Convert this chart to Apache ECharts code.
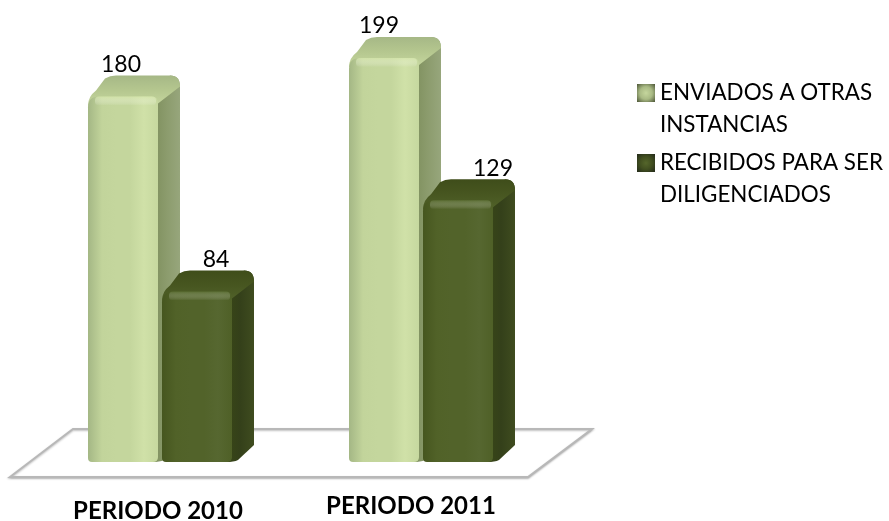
<!DOCTYPE html>
<html>
<head>
<meta charset="utf-8">
<style>
html, body { margin: 0; padding: 0; background: #fff; }
#chart { width: 889px; height: 521px; }
</style>
<script src="https://cdn.jsdelivr.net/npm/echarts@6/dist/echarts.min.js"></script>
</head>
<body>
<div id="chart"></div>
<script>
const categories = ['PERIODO 2010', 'PERIODO 2011'];
const enviados = [180, 199];
const recibidos = [84, 129];
const seriesNames = ['ENVIADOS A OTRAS\nINSTANCIAS', 'RECIBIDOS PARA SER\nDILIGENCIADOS'];

const FONT = 'Lato, Carlito, sans-serif';
const linear = (x, y, x2, y2, stops) => new echarts.graphic.LinearGradient(x, y, x2, y2,
	stops.map((c, i) => ({ offset: i / (stops.length - 1), color: c })));

const lightFace = {
	front: ['#a4b785', '#c2d49b', '#c4d69d', '#c4d69d', '#d0e1a8', '#c6d89f'],
	side: ['#7d8e5c', '#8b9b6c', '#97a67c'],
	top: ['#a6b886', '#b5c78f', '#c6d79f'],
	bevel: 'rgba(214,230,172,0.7)'
};
const darkFace = {
	front: ['#46561f', '#516228', '#52632a', '#52632a', '#566730', '#4f6027'],
	side: ['#394717', '#34401a', '#3f4c1f'],
	top: ['#3f4d1a', '#475620', '#51622a'],
	bevel: 'rgba(96,116,56,0.6)'
};

// 3D look of the bars: front width, depth of the side face
const FRONT_W = 70, DX = 22, DY = 21;

function barRenderer(face, slot, labelShift) {
	return function (params, api) {
		const idx = api.value(0);
		const val = api.value(1);
		const top = api.coord([idx, val]);
		const base = api.coord([idx, 0]);
		const x0 = top[0] + slot, x1 = x0 + FRONT_W;
		const yT = top[1], yB = base[1];
		const sidePath = `M${x1 - 4} ${yT} L${x1 + DX - 10} ${yT - DY} Q${x1 + DX} ${yT - DY} ${x1 + DX} ${yT - DY + 11}
			L${x1 + DX} ${yB - DY + 4} L${x1 + 6} ${yB - 2} Q${x1 + 2} ${yB} ${x1 - 6} ${yB} Z`;
		const topPath = `M${x0} ${yT + 9} Q${x0} ${yT} ${x0 + 8} ${yT - 6} L${x0 + DX - 5} ${yT - DY + 3}
			Q${x0 + DX} ${yT - DY} ${x0 + DX + 6} ${yT - DY} L${x1 + DX - 10} ${yT - DY} Q${x1 + DX} ${yT - DY} ${x1 + DX} ${yT - DY + 11}
			L${x1} ${yT + 7} Z`;
		const frontPath = `M${x0} ${yT + 11} Q${x0} ${yT} ${x0 + 11} ${yT} L${x1 - 6} ${yT} Q${x1} ${yT} ${x1} ${yT + 7}
			L${x1} ${yB - 5} Q${x1} ${yB} ${x1 - 5} ${yB} L${x0 + 4} ${yB} Q${x0} ${yB} ${x0} ${yB - 4} Z`;
		return {
			type: 'group',
			children: [
				{ type: 'path', shape: { pathData: sidePath }, style: { fill: linear(0, 0, 1, 0, face.side) } },
				{ type: 'path', shape: { pathData: topPath }, style: { fill: linear(0, 0, 0, 1, face.top) } },
				{ type: 'path', shape: { pathData: frontPath }, style: { fill: linear(0, 0, 1, 0, face.front) } },
				{
					type: 'rect',
					shape: { x: x0 + 7, y: yT, width: FRONT_W - 9, height: 9, r: 4 },
					style: { fill: linear(0, 0, 0, 1, [face.bevel, 'rgba(255,255,255,0)']) }
				},
				{
					type: 'text',
					style: {
						text: String(val),
						x: x0 + labelShift[idx],
						y: yT - DY - 11,
						align: 'center',
						verticalAlign: 'middle',
						font: '23px ' + FONT,
						fill: '#000'
					}
				}
			]
		};
	};
}

const chart = echarts.init(document.getElementById('chart'));
chart.setOption({
	animation: false,
	backgroundColor: '#fff',
	grid: { left: 31.5, width: 522, top: 56, height: 406, outerBoundsMode: 'none' },
	xAxis: {
		type: 'category',
		data: [
			{ value: categories[0], textStyle: { padding: [5, 8, 0, 0] } },
			{ value: categories[1], textStyle: { padding: [0, 24, 5, 0] } }
		],
		axisLine: { show: false },
		axisTick: { show: false },
		axisLabel: { margin: 32, fontFamily: FONT, fontWeight: 'bold', fontSize: 24, color: '#000' }
	},
	yAxis: { type: 'value', min: 0, max: 200, show: false },
	legend: {
		orient: 'vertical',
		left: 637,
		top: 45,
		padding: 0,
		itemWidth: 18,
		itemHeight: 18,
		itemGap: -26,
		icon: 'rect',
		formatter: name => '\n' + name,
		textStyle: { fontFamily: FONT, fontSize: 22.4, lineHeight: 32, color: '#000' },
		data: [
			{
				name: seriesNames[0],
				itemStyle: {
					color: new echarts.graphic.RadialGradient(0.5, 0.5, 0.7, [
						{ offset: 0, color: '#c5d69d' }, { offset: 0.5, color: '#a9ba84' }, { offset: 1, color: '#4d5638' }
					])
				}
			},
			{
				name: seriesNames[1],
				itemStyle: {
					color: new echarts.graphic.RadialGradient(0.5, 0.5, 0.7, [
						{ offset: 0, color: '#55662b' }, { offset: 0.5, color: '#414f20' }, { offset: 1, color: '#23291a' }
					])
				}
			}
		]
	},
	graphic: [{
		type: 'polygon',
		z: -1,
		shape: { points: [[10, 477], [73, 429], [592, 429], [528, 477]] },
		style: {
			fill: '#fff', stroke: '#b8b8b8', lineWidth: 2,
			shadowBlur: 2, shadowColor: 'rgba(0,0,0,0.25)', shadowOffsetY: 1
		}
	}],
	series: [
		{
			name: seriesNames[0],
			type: 'custom',
			z: 2,
			clip: false,
			encode: { x: 0, y: 1 },
			data: enviados.map((v, i) => [i, v]),
			renderItem: barRenderer(lightFace, -74, [33, 30]),
			itemStyle: { color: '#c4d69d' }
		},
		{
			name: seriesNames[1],
			type: 'custom',
			z: 3,
			clip: false,
			encode: { x: 0, y: 1 },
			data: recibidos.map((v, i) => [i, v]),
			renderItem: barRenderer(darkFace, 0, [54, 70]),
			itemStyle: { color: '#52632a' }
		}
	]
});
</script>
</body>
</html>
